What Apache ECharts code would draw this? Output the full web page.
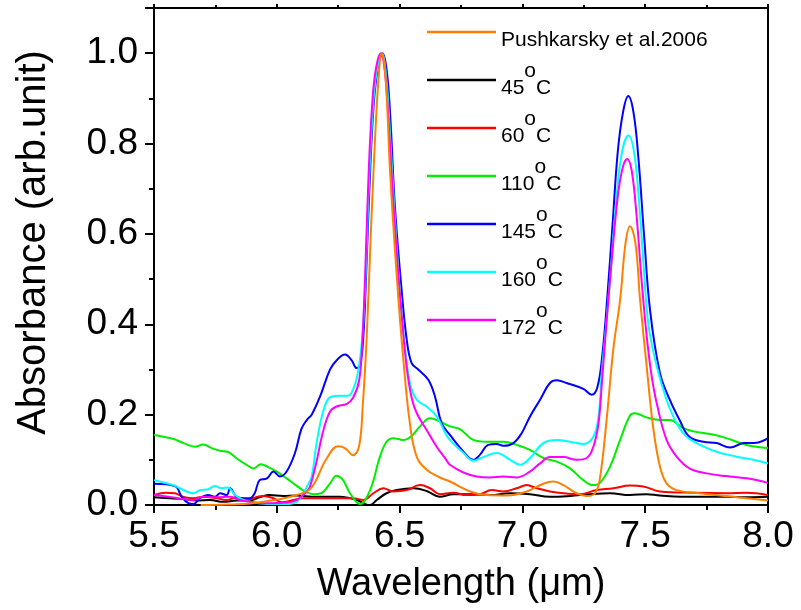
<!DOCTYPE html>
<html>
<head>
<meta charset="utf-8">
<script src="https://cdn.jsdelivr.net/npm/echarts@6/dist/echarts.min.js"></script>
<style>
  html, body { margin: 0; padding: 0; background: #fff; }
  #chart { width: 801px; height: 610px; }
</style>
</head>
<body>
<div id="chart"></div>
<script>
// wavelength (um), absorbance (arb.unit)
const pushkarsky = [[5.69,0.0],[5.8,0.001],[5.9,0.004],[6.0,0.012],[6.08,0.022],[6.14,0.038],[6.2,0.1],[6.25,0.13],[6.28,0.125],[6.31,0.11],[6.335,0.13],[6.35,0.22],[6.366,0.37],[6.382,0.59],[6.40,0.81],[6.415,0.95],[6.427,1.0],[6.437,0.98],[6.448,0.9],[6.461,0.74],[6.488,0.51],[6.514,0.33],[6.542,0.18],[6.57,0.106],[6.61,0.078],[6.66,0.062],[6.705,0.052],[6.787,0.03],[6.854,0.022],[6.936,0.021],[7.018,0.03],[7.085,0.047],[7.126,0.052],[7.167,0.044],[7.221,0.026],[7.262,0.02],[7.296,0.026],[7.316,0.06],[7.344,0.195],[7.37,0.344],[7.398,0.455],[7.42,0.58],[7.438,0.617],[7.46,0.58],[7.479,0.455],[7.506,0.307],[7.532,0.174],[7.56,0.085],[7.587,0.048],[7.628,0.033],[7.72,0.026],[7.857,0.018],[8.0,0.01]];

const t45 = [[5.5,0.017],[5.565,0.015],[5.62,0.013],[5.674,0.01],[5.728,0.011],[5.782,0.007],[5.837,0.01],[5.89,0.01],[5.93,0.017],[5.97,0.022],[6.026,0.02],[6.08,0.021],[6.16,0.018],[6.257,0.018],[6.325,0.011],[6.36,0.002],[6.38,0.0],[6.407,0.011],[6.447,0.026],[6.488,0.033],[6.556,0.037],[6.61,0.031],[6.664,0.018],[6.719,0.024],[6.787,0.024],[6.868,0.022],[6.95,0.026],[7.031,0.024],[7.112,0.018],[7.194,0.02],[7.275,0.024],[7.357,0.026],[7.438,0.022],[7.506,0.024],[7.56,0.021],[7.696,0.018],[7.83,0.018],[7.913,0.017],[8.0,0.018]];

const t60 = [[5.5,0.022],[5.55,0.027],[5.585,0.026],[5.62,0.018],[5.66,0.015],[5.70,0.018],[5.755,0.015],[5.796,0.011],[5.837,0.017],[5.877,0.01],[5.918,0.018],[5.945,0.02],[5.986,0.015],[6.02,0.006],[6.067,0.011],[6.108,0.015],[6.15,0.015],[6.243,0.015],[6.31,0.015],[6.352,0.011],[6.393,0.026],[6.434,0.037],[6.474,0.03],[6.529,0.033],[6.583,0.044],[6.624,0.037],[6.664,0.024],[6.719,0.027],[6.773,0.022],[6.827,0.024],[6.875,0.033],[6.922,0.03],[6.977,0.037],[7.018,0.044],[7.058,0.037],[7.112,0.03],[7.167,0.026],[7.235,0.024],[7.302,0.033],[7.37,0.037],[7.438,0.043],[7.492,0.041],[7.56,0.03],[7.696,0.027],[7.83,0.026],[7.913,0.027],[8.0,0.022]];

const t110 = [[5.5,0.155],[5.579,0.146],[5.62,0.137],[5.667,0.129],[5.70,0.134],[5.735,0.126],[5.769,0.12],[5.80,0.118],[5.837,0.103],[5.877,0.089],[5.905,0.081],[5.935,0.09],[5.965,0.084],[6.0,0.074],[6.04,0.059],[6.08,0.043],[6.115,0.03],[6.15,0.024],[6.18,0.026],[6.217,0.048],[6.243,0.065],[6.27,0.055],[6.298,0.026],[6.339,0.002],[6.38,0.033],[6.42,0.107],[6.447,0.14],[6.474,0.148],[6.515,0.144],[6.549,0.153],[6.583,0.174],[6.624,0.192],[6.664,0.185],[6.705,0.174],[6.746,0.168],[6.80,0.144],[6.854,0.14],[6.922,0.14],[6.977,0.133],[7.031,0.122],[7.085,0.104],[7.14,0.096],[7.194,0.081],[7.248,0.055],[7.289,0.044],[7.316,0.049],[7.357,0.085],[7.398,0.144],[7.438,0.198],[7.458,0.203],[7.506,0.194],[7.56,0.188],[7.60,0.188],[7.655,0.17],[7.696,0.163],[7.764,0.157],[7.83,0.148],[7.913,0.133],[8.0,0.126]];

const t145 = [[5.5,0.047],[5.585,0.042],[5.613,0.018],[5.64,0.004],[5.66,0.002],[5.687,0.015],[5.72,0.022],[5.748,0.018],[5.769,0.026],[5.796,0.022],[5.81,0.037],[5.837,0.018],[5.87,0.015],[5.89,0.015],[5.91,0.026],[5.93,0.055],[5.96,0.059],[5.986,0.074],[6.013,0.063],[6.04,0.074],[6.074,0.115],[6.10,0.168],[6.122,0.188],[6.142,0.2],[6.176,0.24],[6.217,0.3],[6.243,0.32],[6.278,0.333],[6.305,0.32],[6.325,0.303],[6.339,0.31],[6.352,0.37],[6.364,0.514],[6.377,0.70],[6.394,0.883],[6.412,0.97],[6.431,1.0],[6.448,0.96],[6.462,0.86],[6.481,0.66],[6.508,0.477],[6.529,0.366],[6.549,0.314],[6.576,0.3],[6.617,0.277],[6.644,0.24],[6.671,0.181],[6.705,0.155],[6.76,0.118],[6.80,0.1],[6.827,0.111],[6.861,0.133],[6.895,0.135],[6.922,0.131],[6.963,0.137],[6.997,0.159],[7.031,0.196],[7.072,0.233],[7.112,0.27],[7.14,0.276],[7.18,0.27],[7.248,0.257],[7.282,0.244],[7.305,0.26],[7.325,0.33],[7.345,0.455],[7.367,0.62],[7.388,0.78],[7.41,0.87],[7.431,0.905],[7.452,0.87],[7.472,0.77],[7.495,0.6],[7.52,0.43],[7.56,0.292],[7.60,0.233],[7.64,0.188],[7.68,0.151],[7.737,0.14],[7.79,0.137],[7.846,0.127],[7.90,0.137],[7.954,0.138],[8.0,0.148]];

const t160 = [[5.5,0.055],[5.538,0.05],[5.579,0.044],[5.606,0.037],[5.633,0.03],[5.66,0.026],[5.687,0.033],[5.72,0.035],[5.748,0.042],[5.775,0.037],[5.80,0.039],[5.83,0.022],[5.857,0.013],[5.89,0.007],[5.93,0.004],[5.97,0.002],[6.026,0.002],[6.067,0.004],[6.10,0.018],[6.122,0.04],[6.142,0.063],[6.16,0.13],[6.18,0.188],[6.203,0.229],[6.224,0.24],[6.257,0.242],[6.291,0.242],[6.31,0.255],[6.33,0.292],[6.348,0.37],[6.362,0.514],[6.376,0.72],[6.394,0.9],[6.41,0.97],[6.428,1.0],[6.445,0.95],[6.458,0.85],[6.478,0.66],[6.50,0.48],[6.518,0.37],[6.542,0.27],[6.57,0.233],[6.61,0.218],[6.651,0.196],[6.69,0.155],[6.705,0.144],[6.76,0.115],[6.80,0.098],[6.84,0.106],[6.895,0.115],[6.95,0.1],[6.99,0.089],[7.031,0.104],[7.085,0.137],[7.14,0.144],[7.194,0.14],[7.248,0.135],[7.289,0.151],[7.31,0.196],[7.323,0.292],[7.338,0.38],[7.36,0.52],[7.38,0.66],[7.405,0.78],[7.432,0.818],[7.455,0.78],[7.475,0.67],[7.495,0.52],[7.513,0.4],[7.547,0.307],[7.587,0.233],[7.628,0.181],[7.669,0.151],[7.723,0.133],[7.79,0.118],[7.872,0.107],[7.94,0.1],[8.0,0.092]];

const t172 = [[5.5,0.022],[5.565,0.018],[5.62,0.013],[5.66,0.011],[5.70,0.018],[5.755,0.017],[5.81,0.018],[5.85,0.011],[5.89,0.007],[5.945,0.004],[6.026,0.005],[6.08,0.011],[6.122,0.03],[6.135,0.04],[6.16,0.092],[6.19,0.166],[6.217,0.207],[6.243,0.218],[6.285,0.224],[6.31,0.237],[6.335,0.275],[6.348,0.36],[6.36,0.514],[6.374,0.735],[6.39,0.9],[6.405,0.97],[6.423,1.0],[6.44,0.96],[6.455,0.85],[6.47,0.71],[6.488,0.56],[6.51,0.41],[6.53,0.3],[6.55,0.235],[6.57,0.203],[6.61,0.166],[6.651,0.129],[6.69,0.1],[6.705,0.089],[6.76,0.072],[6.814,0.063],[6.868,0.061],[6.922,0.063],[6.977,0.061],[7.031,0.074],[7.072,0.092],[7.112,0.106],[7.167,0.106],[7.221,0.1],[7.262,0.104],[7.289,0.129],[7.31,0.181],[7.325,0.28],[7.342,0.4],[7.365,0.55],[7.39,0.69],[7.41,0.75],[7.427,0.766],[7.445,0.74],[7.465,0.64],[7.485,0.5],[7.505,0.38],[7.525,0.29],[7.547,0.225],[7.587,0.144],[7.628,0.107],[7.68,0.081],[7.75,0.07],[7.83,0.064],[7.913,0.059],[8.0,0.049]];

const seriesNames = ['Pushkarsky et al.2006', '45°C', '60°C', '110°C', '145°C', '160°C', '172°C'];
const seriesData = [pushkarsky, t45, t60, t110, t145, t160, t172];
const seriesColors = ['#ff8000', '#000000', '#ff0000', '#00ee00', '#0000ff', '#00ffff', '#ff00ff'];

const FONT = 'Liberation Sans, Arial, sans-serif';

const chart = echarts.init(document.getElementById('chart'));

const series = seriesNames.map((name, i) => ({
  name: name,
  type: 'line',
  data: seriesData[i],
  smooth: 0.4,
  showSymbol: false,
  lineStyle: { width: 2, color: seriesColors[i] },
  itemStyle: { color: seriesColors[i] },
  z: i === 0 ? 4 : 2
}));

const option = {
  animation: false,
  backgroundColor: '#fff',
  grid: { left: 154, right: 33, top: 8, bottom: 105 },
  legend: {
    orient: 'vertical',
    left: 427,
    top: 30,
    padding: 0,
    itemWidth: 69,
    itemHeight: 2.5,
    itemGap: 10,
    icon: 'rect',
    data: seriesNames,
    formatter: function (name) {
      // degree sign drawn as a raised "o" like the original figure
      if (name.indexOf('°') >= 0) {
        const t = name.split('°')[0];
        return '{n|' + t + '}{s|o}{n|C}';
      }
      return '{n|' + name + '}';
    },
    textStyle: {
      fontFamily: FONT,
      fontSize: 21,
      color: '#000',
      rich: {
        n: { fontFamily: FONT, fontSize: 21, color: '#000', lineHeight: 38, verticalAlign: 'bottom' },
        s: { fontFamily: FONT, fontSize: 21, color: '#000', lineHeight: 38, verticalAlign: 'top' }
      }
    }
  },
  xAxis: [
    {
      type: 'value',
      min: 5.5,
      max: 8.0,
      interval: 0.5,
      name: 'Wavelength (μm)',
      nameLocation: 'middle',
      nameGap: 61,
      nameTextStyle: { fontFamily: FONT, fontSize: 38, color: '#000' },
      axisLine: { show: true, onZero: false, lineStyle: { color: '#000', width: 2 } },
      axisTick: { show: true, inside: false, length: 8, lineStyle: { color: '#000', width: 2 } },
      minorTick: { show: true, splitNumber: 2, length: 5, lineStyle: { color: '#000', width: 2 } },
      axisLabel: {
        margin: 13,
        fontFamily: FONT,
        fontSize: 37,
        color: '#000',
        formatter: v => v.toFixed(1)
      },
      splitLine: { show: false }
    },
    {
      type: 'value',
      position: 'top',
      min: 5.5,
      max: 8.0,
      interval: 0.5,
      axisLine: { show: true, onZero: false, lineStyle: { color: '#000', width: 2 } },
      axisTick: { show: true, inside: false, length: 4, lineStyle: { color: '#000', width: 2 } },
      minorTick: { show: true, splitNumber: 2, length: 3, lineStyle: { color: '#000', width: 2 } },
      axisLabel: { show: false },
      splitLine: { show: false }
    }
  ],
  yAxis: [
    {
      type: 'value',
      min: 0,
      max: 1.1,
      interval: 0.2,
      name: 'Absorbance (arb.unit)',
      nameLocation: 'middle',
      nameGap: 100,
      nameTextStyle: { fontFamily: FONT, fontSize: 40, color: '#000', padding: [0, 0, 0, 28] },
      axisLine: { show: true, onZero: false, lineStyle: { color: '#000', width: 2 } },
      axisTick: { show: true, inside: false, length: 9, lineStyle: { color: '#000', width: 2 } },
      minorTick: { show: true, splitNumber: 2, length: 5, lineStyle: { color: '#000', width: 2 } },
      axisLabel: {
        margin: 16,
        fontFamily: FONT,
        fontSize: 37,
        color: '#000',
        showMaxLabel: false,
        formatter: v => (v > 1.05 ? '' : v.toFixed(1))
      },
      splitLine: { show: false }
    },
    {
      type: 'value',
      position: 'right',
      min: 0,
      max: 1.1,
      axisLine: { show: true, onZero: false, lineStyle: { color: '#000', width: 2 } },
      axisTick: { show: false },
      axisLabel: { show: false },
      splitLine: { show: false }
    }
  ],
  series: series
};

chart.setOption(option);
</script>
</body>
</html>
